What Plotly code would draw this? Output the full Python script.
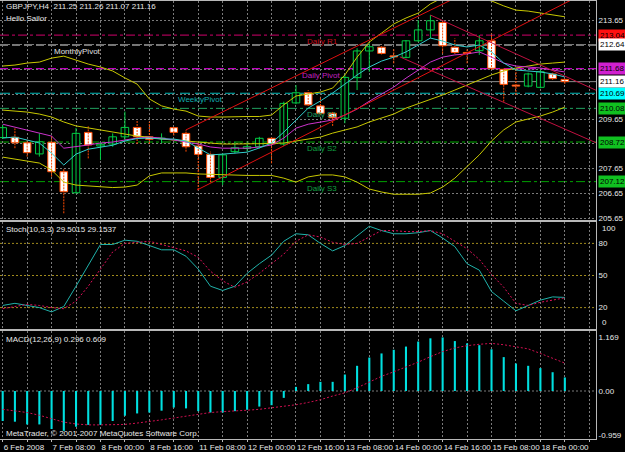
import plotly.graph_objects as go

# ---------------- data ----------------
bars = list(range(47))
opn = [208.90, 208.91, 208.69, 208.24, 208.71, 207.52, 206.67, 209.11, 208.56, 208.64,
       208.93, 209.31, 208.93, 208.86, 209.30, 209.07, 208.56, 208.22, 207.29, 208.33,
       208.46, 208.53, 208.87, 208.64, 210.30, 210.71, 210.18, 209.88, 209.68, 211.32,
       212.40, 212.55, 212.20, 212.14, 212.81, 213.25, 213.55, 212.55, 212.34, 212.41,
       212.81, 211.66, 211.02, 210.98, 210.93, 211.47, 211.25]
high = [209.42, 209.27, 208.80, 209.07, 208.96, 207.62, 209.29, 209.37, 208.72, 209.07,
        209.95, 209.61, 209.54, 209.07, 209.34, 209.21, 208.73, 208.33, 208.26, 208.73,
        208.69, 208.93, 208.93, 210.35, 211.02, 210.82, 210.55, 209.95, 211.43, 212.51,
        212.71, 212.60, 212.47, 212.84, 213.65, 213.85, 213.65, 212.91, 212.51, 213.04,
        213.11, 211.70, 211.70, 211.52, 211.63, 211.52, 211.26]
low = [208.85, 208.47, 208.13, 208.13, 207.32, 205.84, 206.65, 208.06, 207.99, 208.53,
       208.73, 208.64, 208.64, 208.67, 208.98, 208.33, 206.78, 207.09, 206.98, 208.26,
       208.33, 208.46, 207.86, 208.56, 210.25, 210.18, 209.81, 209.37, 209.48, 210.82,
       211.56, 212.26, 211.90, 212.10, 212.77, 212.91, 212.30, 212.28, 211.90, 212.24,
       211.63, 210.35, 210.62, 210.93, 210.89, 211.23, 211.07]
close = [209.30, 208.69, 208.29, 208.73, 207.52, 206.71, 209.07, 208.60, 208.63, 208.93,
         209.31, 208.93, 208.83, 208.88, 209.11, 208.53, 208.22, 207.29, 208.20, 208.49,
         208.53, 208.87, 208.64, 210.28, 210.71, 210.22, 209.88, 209.70, 211.33, 212.40,
         212.57, 212.30, 212.16, 212.81, 213.25, 213.62, 212.61, 212.34, 212.30, 212.81,
         211.70, 211.05, 210.98, 211.47, 211.56, 211.28, 211.16]

bb_upper = [211.79, 211.83, 211.91, 211.95, 212.11, 212.19, 212.03, 211.87, 211.75, 211.59,
            211.31, 211.06, 210.46, 210.18, 210.05, 209.97, 209.77, 209.73, 209.73, 209.75,
            209.75, 209.75, 209.81, 210.22, 210.58, 210.66, 210.74, 210.90, 211.43, 212.15,
            212.76, 213.12, 213.49, 213.73, 213.93, 214.30, 214.55, 214.62, 214.60, 214.52,
            214.42, 214.22, 214.05, 214.01, 213.94, 213.87, 213.78]
bb_mid = [210.01, 209.97, 209.93, 209.85, 209.73, 209.53, 209.37, 209.29, 209.21, 209.12,
          209.04, 208.96, 208.92, 208.84, 208.80, 208.76, 208.72, 208.68, 208.64, 208.64,
          208.64, 208.64, 208.66, 208.68, 208.76, 208.84, 208.92, 209.08, 209.21, 209.33,
          209.53, 209.69, 209.85, 210.09, 210.26, 210.42, 210.62, 210.82, 211.02, 211.22,
          211.43, 211.59, 211.71, 211.79, 211.87, 211.91, 211.95]
bb_lower = [208.11, 208.03, 207.95, 207.87, 207.59, 207.10, 206.98, 206.94, 206.90, 206.88,
            206.90, 206.98, 207.35, 207.47, 207.47, 207.47, 207.43, 207.41, 207.39, 207.39,
            207.37, 207.37, 207.37, 207.26, 207.10, 207.31, 207.39, 207.39, 207.31, 207.10,
            206.82, 206.70, 206.61, 206.61, 206.61, 206.66, 206.90, 207.26, 207.75, 208.20,
            208.76, 209.21, 209.53, 209.65, 209.77, 209.93, 210.13]
ma_fast = [208.88, 208.92, 208.80, 208.68, 208.27, 207.79, 208.23, 208.43, 208.51, 208.59,
           208.76, 208.86, 208.88, 208.84, 208.84, 208.76, 208.48, 208.20, 208.23, 208.27,
           208.31, 208.48, 208.68, 209.12, 209.61, 210.09, 210.38, 210.70, 211.06, 211.43,
           211.75, 211.99, 212.15, 212.36, 212.64, 212.92, 212.80, 212.64, 212.56, 212.64,
           212.36, 211.91, 211.63, 211.59, 211.55, 211.47, 211.35]
ma_slow = [209.44, 209.32, 209.20, 209.08, 208.96, 208.47, 208.52, 208.60, 208.68, 208.72,
           208.80, 208.88, 208.92, 208.88, 208.80, 208.72, 208.64, 208.52, 208.47, 208.47,
           208.47, 208.52, 208.60, 208.88, 209.28, 209.44, 209.52, 209.61, 209.81, 210.05,
           210.37, 210.65, 210.94, 211.30, 211.63, 211.95, 212.15, 212.24, 212.28, 212.36,
           212.15, 211.91, 211.79, 211.75, 211.71, 211.63, 211.55]

stoch_main = [22, 24, 22, 20, 16, 21, 40, 60, 79, 79, 83, 82, 78, 74, 74, 68, 56, 40, 36, 40,
              52, 61, 69, 82, 89, 88, 80, 73, 78, 87, 96, 92, 89, 89, 90, 92, 85, 77, 61, 55,
              35, 26, 17, 22, 27, 30, 29.5015]
stoch_signal = [19, 21, 23, 22, 20, 19, 26, 40, 56, 72, 80, 81, 82, 79, 76, 73, 67, 54, 45, 39,
                44, 52, 61, 70, 82, 88, 86, 81, 79, 80, 86, 92, 92, 91, 91, 92, 89, 82, 75, 65,
                51, 39, 24, 22, 25, 27, 29.1537]

macd_hist = [-0.655, -0.67, -0.73, -0.73, -0.83, -0.87, -0.78, -0.74, -0.74, -0.655,
             -0.54, -0.49, -0.47, -0.43, -0.36, -0.38, -0.44, -0.47, -0.47, -0.44,
             -0.41, -0.34, -0.31, -0.15, 0.09, 0.15, 0.20, 0.20, 0.36, 0.55,
             0.73, 0.82, 0.90, 0.97, 1.08, 1.15, 1.169, 1.09, 1.04, 1.00,
             0.91, 0.74, 0.60, 0.55, 0.50, 0.41, 0.296]
macd_signal = [-0.40, -0.43, -0.47, -0.53, -0.61, -0.68, -0.72, -0.74, -0.74, -0.74,
               -0.73, -0.70, -0.67, -0.63, -0.59, -0.55, -0.50, -0.47, -0.45, -0.44,
               -0.42, -0.40, -0.37, -0.34, -0.30, -0.25, -0.19, -0.11, -0.04, 0.07,
               0.20, 0.32, 0.42, 0.52, 0.63, 0.75, 0.86, 0.94, 0.99, 1.02,
               1.04, 1.01, 0.97, 0.92, 0.82, 0.72, 0.609]

# pivot levels
level_names = ["Daily R1", "MonthlyPivot", "Daily Pivot", "WeeklyPivot", "Daily S1", "Daily S2", "Daily S3"]
level_values = [213.04, 212.64, 211.68, 210.69, 210.08, 208.72, 207.12]
bid_price = 211.16

# trend lines: (bar, price) endpoints
trend_lines = [
    [(15.9, 206.78), (48.6, 214.98)],
    [(15.0, 209.21), (48.6, 217.34)],
    [(32.5, 212.16), (48.6, 208.68)],
    [(35.0, 213.85), (48.6, 210.80)],
]

time_labels = ["6 Feb 2008", "7 Feb 08:00", "8 Feb 00:00", "8 Feb 16:00", "11 Feb 08:00",
               "12 Feb 00:00", "12 Feb 16:00", "13 Feb 08:00", "14 Feb 00:00", "14 Feb 16:00",
               "15 Feb 08:00", "18 Feb 00:00"]
price_ticks = [205.65, 206.65, 207.65, 208.65, 209.65, 210.65, 211.65, 212.65, 213.65]
price_tick_text = ["205.65", "206.65", "207.65", "", "209.65", "", "", "", "213.65"]

# ---------------- styling ----------------
W, H = 625, 452
FONT = "Liberation Sans Narrow, Arial Narrow, Liberation Sans, Arial"
FS = 8
TXT = "#E8E8E8"
GREEN = "#00CC44"
REDC = "#FF4A00"
GRID = "#7A7A7A"
BORDER = "#B8B8B8"
XR = [-0.221, 48.55]
XDOM = [0, 596 / W]


def py(p):
    return 1 - p / H


fig = go.Figure()

# candles: wicks
bx, byv, rx, ryv = [], [], [], []
for i in bars:
    if close[i] >= opn[i]:
        bx += [i, i, None]
        byv += [low[i], high[i], None]
    else:
        rx += [i, i, None]
        ryv += [low[i], high[i], None]
fig.add_trace(go.Scatter(x=bx, y=byv, mode="lines", line=dict(color=GREEN, width=1),
                         xaxis="x", yaxis="y", hoverinfo="skip"))
fig.add_trace(go.Scatter(x=rx, y=ryv, mode="lines", line=dict(color=REDC, width=1, dash="2px,1px"),
                         xaxis="x", yaxis="y", hoverinfo="skip"))
# candles: bodies
up = [i for i in bars if close[i] >= opn[i]]
dn = [i for i in bars if close[i] < opn[i]]
fig.add_trace(go.Bar(x=up, base=[opn[i] for i in up],
                     y=[max(close[i] - opn[i], 0.015) for i in up], width=0.62,
                     marker=dict(color="black", line=dict(color=GREEN, width=1)),
                     xaxis="x", yaxis="y", hoverinfo="skip"))
fig.add_trace(go.Bar(x=dn, base=[close[i] for i in dn],
                     y=[max(opn[i] - close[i], 0.015) for i in dn], width=0.62,
                     marker=dict(color="white", line=dict(color=REDC, width=1)),
                     xaxis="x", yaxis="y", hoverinfo="skip"))

# indicators
for ser, col in [(bb_upper, "#C8C800"), (bb_mid, "#C8C800"), (bb_lower, "#C8C800"),
                 (ma_slow, "#CC33CC"), (ma_fast, "#33CCCC")]:
    fig.add_trace(go.Scatter(x=bars, y=ser, mode="lines", line=dict(color=col, width=1),
                             xaxis="x", yaxis="y", hoverinfo="skip"))

tl_colors = ["#E01010", "#E01010", "#C01040", "#C01040"]
for (p0, p1), col in zip(trend_lines, tl_colors):
    fig.add_trace(go.Scatter(x=[p0[0], p1[0]], y=[p0[1], p1[1]], mode="lines",
                             line=dict(color=col, width=1), xaxis="x", yaxis="y", hoverinfo="skip"))

# stochastic
fig.add_trace(go.Scatter(x=bars, y=stoch_main, mode="lines", line=dict(color="#20B2AA", width=1),
                         xaxis="x2", yaxis="y2", hoverinfo="skip"))
fig.add_trace(go.Scatter(x=bars, y=stoch_signal, mode="lines", line=dict(color="#E0105A", width=1, dash="2px,2px"),
                         xaxis="x2", yaxis="y2", hoverinfo="skip"))

# macd
fig.add_trace(go.Bar(x=bars, y=macd_hist, width=0.17, marker=dict(color="#00E0E0", line=dict(width=0)),
                     xaxis="x3", yaxis="y3", hoverinfo="skip"))
fig.add_trace(go.Scatter(x=bars, y=macd_signal, mode="lines", line=dict(color="#D01050", width=1, dash="2px,2px"),
                         xaxis="x3", yaxis="y3", hoverinfo="skip"))

# ---------------- shapes ----------------
shapes = []
lvl_style = [("#D0006A", "dashdot"), ("#E8E8E8", "8px,4px"), ("#FF00FF", "8px,4px"),
             ("#00B8B8", "10px,5px"), ("#20A060", "dashdot"), ("#00B000", "dashdot"), ("#00A000", "dashdot")]
for v, (c, d) in zip(level_values, lvl_style):
    shapes.append(dict(type="line", xref="x domain", x0=0, x1=1, yref="y", y0=v, y1=v,
                       line=dict(color=c, width=1, dash=d), layer="below"))
shapes.append(dict(type="line", xref="x domain", x0=0, x1=1, yref="y", y0=bid_price, y1=bid_price,
                   line=dict(color="#8C8C8C", width=1), layer="below"))
for v in [20, 50, 80]:
    shapes.append(dict(type="line", xref="x2 domain", x0=0, x1=1, yref="y2", y0=v, y1=v,
                       line=dict(color="#A08A1C", width=1, dash="2px,2px"), layer="below"))
shapes.append(dict(type="line", xref="x3 domain", x0=0, x1=1, yref="y3", y0=0, y1=0,
                   line=dict(color=GRID, width=1, dash="2px,2px"), layer="below"))

# ---------------- annotations ----------------
ann = []


def text(x, y, s, color=TXT, xref="paper", yref="paper", xanchor="left", yanchor="middle", bg=None):
    d = dict(x=x, y=y, xref=xref, yref=yref, text=s, showarrow=False, xanchor=xanchor,
             yanchor=yanchor, font=dict(family=FONT, size=FS, color=color))
    if bg:
        d.update(bgcolor=bg, borderpad=1)
    ann.append(d)


text(4 / W, py(7), "GBPJPY,H4  211.25 211.26 211.07 211.16")
text(4 / W, py(18.5), "Hello Sailor")
text(4 / W, py(229.5), "Stoch(10,3,3) 29.5015 29.1537")
text(4 / W, py(339.5), "MACD(12,26,9) 0.296 0.609")
text(4 / W, py(433.5), "MetaTrader, © 2001-2007 MetaQuotes Software Corp.")

lbl_pos = {"Daily R1": 24.74, "MonthlyPivot": 4.05, "Daily Pivot": 24.33, "WeeklyPivot": 14.2,
           "Daily S1": 24.74, "Daily S2": 24.74, "Daily S3": 24.74}
lbl_col = {"Daily R1": "#C81020", "MonthlyPivot": "#E0E0E0", "Daily Pivot": "#C020C0",
           "WeeklyPivot": "#10B0B0", "Daily S1": "#20A060", "Daily S2": "#10A040", "Daily S3": "#10A040"}
for n, v in zip(level_names, level_values):
    text(lbl_pos[n], v, n, color=lbl_col[n], xref="x", yref="y", yanchor="top")

box_col = ["#FF1010", "#FFFFFF", "#D020D0", "#00FFFF", "#10C020", "#10C020", "#10C020"]
box_vals = [213.04, 212.64, 211.68, 210.69, 210.08, 208.72, 207.12]
for v, c in zip(box_vals, box_col):
    text(598 / W, v, f"{v:.2f}", color="black", yref="y", bg=c)
text(598 / W, bid_price, f"{bid_price:.2f}", color="black", yref="y", bg="#FFFFFF")

text(600 / W, 100, "100", yref="y2", yanchor="top")
text(600 / W, 0, "0", yref="y2", yanchor="bottom")

# ---------------- layout ----------------
xcommon = dict(range=XR, domain=XDOM, showgrid=True, gridcolor=GRID, griddash="2px,2px", gridwidth=1,
               tickvals=list(range(0, 49, 2)), zeroline=False, showline=True, mirror=True,
               linecolor=BORDER, linewidth=1, fixedrange=True, automargin=False)
ycommon = dict(side="right", zeroline=False, showline=True, mirror=True, linecolor=BORDER, linewidth=1,
               tickfont=dict(family=FONT, size=FS, color=TXT), ticks="", fixedrange=True,
               automargin=False)

xt = []
for t in range(0, 49, 2):
    xt.append(time_labels[t // 4] if (t % 4 == 0 and t // 4 < len(time_labels)) else "")

fig.update_layout(
    width=W, height=H, margin=dict(l=0, r=0, t=0, b=0, autoexpand=False),
    paper_bgcolor="black", plot_bgcolor="black", showlegend=False, barmode="overlay",
    xaxis=dict(anchor="y", showticklabels=False, **xcommon),
    xaxis2=dict(anchor="y2", matches="x", showticklabels=False, **xcommon),
    xaxis3=dict(anchor="y3", matches="x", showticklabels=True, ticktext=xt, tickangle=0,
                ticklabelposition="outside right",
                tickfont=dict(family=FONT, size=FS, color=TXT), ticks="outside", ticklen=2,
                tickcolor=BORDER, **xcommon),
    yaxis=dict(anchor="x", domain=[py(220), py(1)], range=[205.569, 214.418], tickvals=price_ticks,
               ticktext=price_tick_text, showgrid=True, gridcolor=GRID, griddash="2px,2px", **ycommon),
    yaxis2=dict(anchor="x2", domain=[py(329), py(222)], range=[0, 100], tickvals=[20, 50, 80],
                ticktext=["20", "50", "80"], showgrid=False, **ycommon),
    yaxis3=dict(anchor="x3", domain=[py(439), py(331)], range=[-1.048, 1.31], tickvals=[-0.959, 0, 1.169],
                ticktext=["-0.959", "0.00", "1.169"], showgrid=False, **ycommon),
    shapes=shapes, annotations=ann,
)

fig.write_html("out.html")
